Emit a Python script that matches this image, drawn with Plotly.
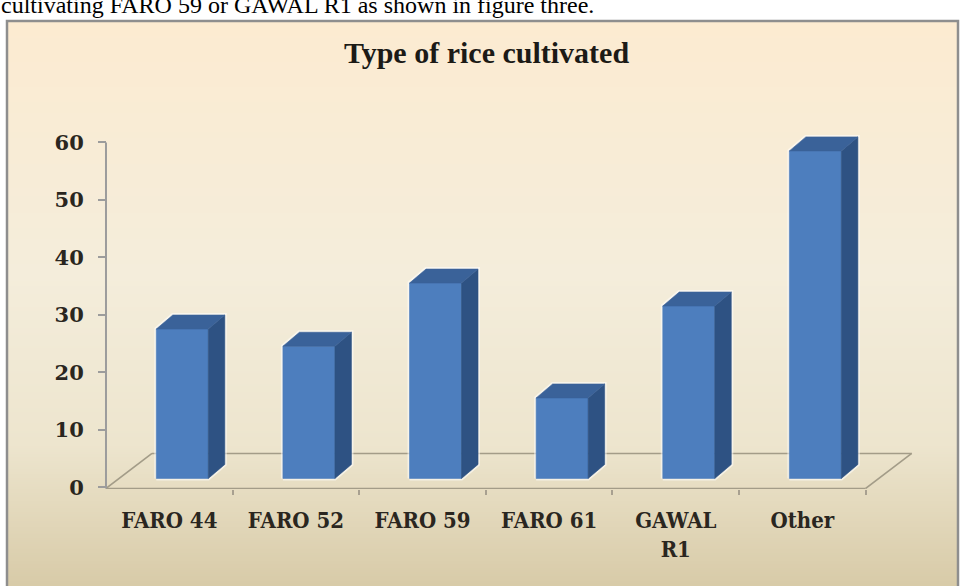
import base64
import struct
import zlib

import plotly.graph_objects as go

# ---- data -------------------------------------------------------------
categories = ["FARO 44", "FARO 52", "FARO 59", "FARO 61", "GAWAL R1", "Other"]
tick_text = ["FARO 44", "FARO 52", "FARO 59", "FARO 61", "GAWAL<br>R1", "Other"]
shares = [26, 23, 34, 14, 30, 57]
y_ticks = [0, 10, 20, 30, 40, 50, 60]

# ---- page geometry ----------------------------------------------------
W, H = 961, 586
ML, MR, MT, MB = 87, 32, 131, 97
X_RANGE = [-0.15, 6.5]
Y_RANGE = [-0.3, 62]
PW = W - ML - MR
PH = H - MT - MB
PX_PER_X = PW / (X_RANGE[1] - X_RANGE[0])
PX_PER_Y = PH / (Y_RANGE[1] - Y_RANGE[0])


def paper_x(px):
    return (px - ML) / PW


def paper_y(py):
    return (H - MB - py) / PH


# 3-D look: bars sit in the middle third of the floor depth
FLOOR_DX, FLOOR_DY = 46 / PX_PER_X, 35 / PX_PER_Y
FRONT_DX, FRONT_DY = 13 / PX_PER_X, 10 / PX_PER_Y
SIDE_DX, SIDE_DY = 16.5 / PX_PER_X, 14 / PX_PER_Y
BAR_W = 52 / PX_PER_X
FLOOR_Y = -0.2

FRONT_C = "#4D7EBE"
SIDE_C = "#2E5283"
TOP_C = "#3A6299"
LINE_C = "#A39C88"
TEXT_C = "#2A2620"


def gradient_png(stops, height):
    rows = []
    for r in range(height):
        t = r / (height - 1)
        for (t0, c0), (t1, c1) in zip(stops[:-1], stops[1:]):
            if t0 <= t <= t1:
                f = (t - t0) / (t1 - t0)
                rgb = [round(a + (b - a) * f) for a, b in zip(c0, c1)]
                break
        rows.append(b"\x00" + bytes(rgb) * 2)
    raw = b"".join(rows)

    def chunk(kind, data):
        return (struct.pack(">I", len(data)) + kind + data
                + struct.pack(">I", zlib.crc32(kind + data) & 0xFFFFFFFF))

    png = (b"\x89PNG\r\n\x1a\n"
           + chunk(b"IHDR", struct.pack(">IIBBBBB", 2, height, 8, 2, 0, 0, 0))
           + chunk(b"IDAT", zlib.compress(raw, 9))
           + chunk(b"IEND", b""))
    return "data:image/png;base64," + base64.b64encode(png).decode()


bg_src = gradient_png(
    [(0.0, (252, 235, 209)), (0.45, (244, 237, 219)),
     (0.75, (237, 229, 206)), (1.0, (216, 203, 168))], 300)

fig = go.Figure()

# bars drawn as front / side / top faces
for i, v in enumerate(shares):
    x0 = i + 0.5 + FRONT_DX - BAR_W / 2
    x1 = x0 + BAR_W
    y0 = FLOOR_Y + FRONT_DY
    y1 = y0 + v
    sil_x = [x0, x1, x1 + SIDE_DX, x1 + SIDE_DX, x0 + SIDE_DX, x0, x0]
    sil_y = [y0, y0, y0 + SIDE_DY, y1 + SIDE_DY, y1 + SIDE_DY, y1, y0]
    fig.add_trace(go.Scatter(x=sil_x, y=sil_y, mode="lines",
                             line=dict(color="rgba(255,255,255,0.55)", width=4),
                             hoverinfo="skip", showlegend=False))
    faces = [
        ([x0, x1, x1, x0, x0], [y0, y0, y1, y1, y0], FRONT_C),
        ([x1, x1 + SIDE_DX, x1 + SIDE_DX, x1, x1],
         [y0, y0 + SIDE_DY, y1 + SIDE_DY, y1, y0], SIDE_C),
        ([x0, x1, x1 + SIDE_DX, x0 + SIDE_DX, x0],
         [y1, y1, y1 + SIDE_DY, y1 + SIDE_DY, y1], TOP_C),
    ]
    for fx, fy, col in faces:
        fig.add_trace(go.Scatter(x=fx, y=fy, mode="lines", fill="toself",
                                 fillcolor=col, line=dict(color=col, width=0.6),
                                 name=categories[i], hoverinfo="skip",
                                 showlegend=False))

# floor outline and value axis line
floor = [
    (0, FLOOR_Y, 6, FLOOR_Y),
    (0, FLOOR_Y, FLOOR_DX, FLOOR_Y + FLOOR_DY),
    (FLOOR_DX, FLOOR_Y + FLOOR_DY, 6 + FLOOR_DX, FLOOR_Y + FLOOR_DY),
    (6, FLOOR_Y, 6 + FLOOR_DX, FLOOR_Y + FLOOR_DY),
]
shapes = [dict(type="line", xref="x", yref="y", x0=a, y0=b, x1=c, y1=d,
               line=dict(color=LINE_C, width=1.6), layer="below")
          for a, b, c, d in floor]
shapes.append(dict(type="line", xref="x", yref="y", x0=0, y0=FLOOR_Y, x1=0,
                   y1=60, line=dict(color="#9C9C9C", width=2), layer="below"))
# chart frame
shapes.append(dict(type="rect", xref="paper", yref="paper",
                   x0=paper_x(7), x1=paper_x(958), y0=paper_y(600), y1=paper_y(21),
                   line=dict(color="#8E8E8E", width=2.5), layer="below"))

fig.add_trace(go.Scatter(x=[None], y=[None], xaxis="x2", yaxis="y",
                         showlegend=False, hoverinfo="skip"))

fig.update_layout(
    width=W, height=H,
    margin=dict(l=ML, r=MR, t=MT, b=MB, pad=0),
    paper_bgcolor="white",
    plot_bgcolor="rgba(0,0,0,0)",
    showlegend=False,
    shapes=shapes,
    images=[dict(source=bg_src, xref="paper", yref="paper",
                 x=paper_x(8), y=paper_y(22),
                 sizex=(957 - 8) / PW, sizey=(586 - 22) / PH,
                 xanchor="left", yanchor="top", sizing="stretch",
                 layer="below")],
    title=dict(text="<b>Type of rice cultivated</b>", x=486.5 / W, xanchor="center",
               y=1 - 52 / H, yanchor="middle", xref="paper" if False else "container",
               font=dict(family="Liberation Serif", size=30, color="#1C1A16")),
    xaxis=dict(range=X_RANGE, tickvals=[i + 0.5 for i in range(len(categories))],
               ticktext=tick_text, ticks="", showgrid=False, zeroline=False,
               showline=False, ticklabelstandoff=16,
               tickfont=dict(family="DejaVu Serif Condensed", size=22,
                             color=TEXT_C, weight="bold")),
    xaxis2=dict(range=X_RANGE, overlaying="x", anchor="y", side="bottom",
                tickvals=list(range(1, 7)), ticks="outside", ticklen=5,
                tickwidth=2, tickcolor="#A8A090", showticklabels=False,
                showgrid=False, zeroline=False, showline=False),
    yaxis=dict(range=Y_RANGE, tickvals=y_ticks, ticks="outside", ticklen=8,
               tickwidth=2, tickcolor="#9C9C9C", showgrid=False, zeroline=False,
               showline=False, anchor="free", position=paper_x(106),
               ticklabelstandoff=10,
               tickfont=dict(family="DejaVu Serif", size=21, color=TEXT_C,
                             weight="bold")),
    annotations=[dict(text="cultivating FARO 59 or GAWAL R1 as shown in figure three.",
                      xref="paper", yref="paper", x=paper_x(-1), y=paper_y(5),
                      xanchor="left", yanchor="middle", showarrow=False,
                      font=dict(family="Liberation Serif", size=24, color="black"))],
)

fig.write_html("out.html")
